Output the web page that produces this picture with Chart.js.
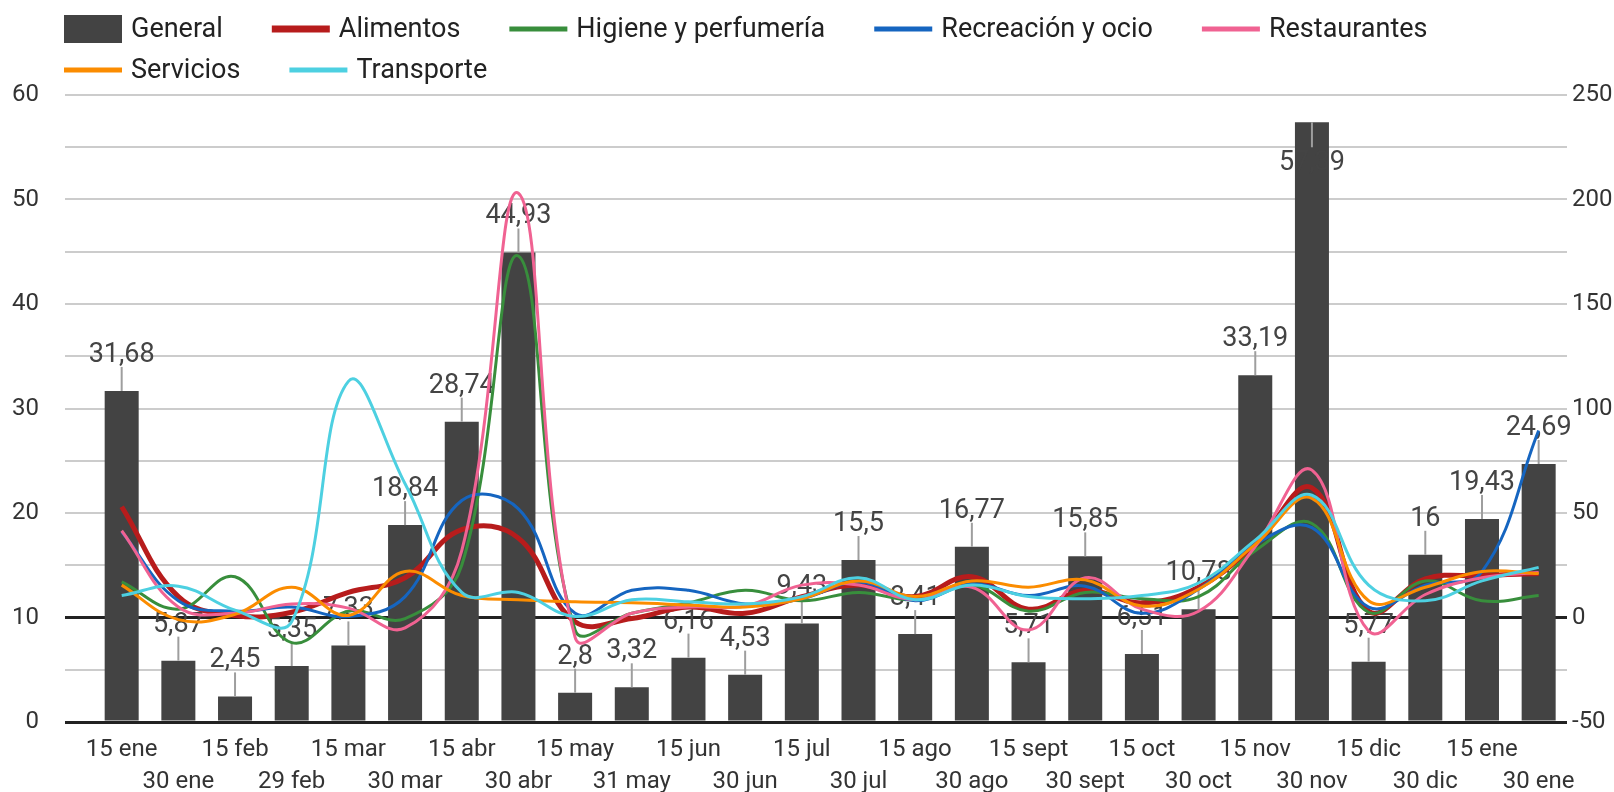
<!DOCTYPE html>
<html>
<head>
<meta charset="utf-8">
<script src="https://cdn.jsdelivr.net/npm/chart.js@4.4.1/dist/chart.umd.min.js"></script>
<style>
  html, body { margin: 0; padding: 0; background: #fff; }
  #wrap { width: 1614px; height: 792px; }
</style>
</head>
<body>
<div id="wrap"><canvas id="chart"></canvas></div>
<script>
// ===== DATA =====
const categories = ['15 ene', '30 ene', '15 feb', '29 feb', '15 mar', '30 mar', '15 abr', '30 abr',
  '15 may', '31 may', '15 jun', '30 jun', '15 jul', '30 jul', '15 ago', '30 ago', '15 sept', '30 sept',
  '15 oct', '30 oct', '15 nov', '30 nov', '15 dic', '30 dic', '15 ene', '30 ene'];

// bars, left axis
const general = [31.68, 5.87, 2.45, 5.35, 7.33, 18.84, 28.74, 44.93, 2.8, 3.32, 6.16, 4.53, 9.43,
  15.5, 8.41, 16.77, 5.71, 15.85, 6.51, 10.78, 33.19, 57.39, 5.77, 16, 19.43, 24.69];

// lines, right axis
const alimentos = [53, 10, 1, 2.5, 12, 19, 42, 38, -2, -0.5, 5, 2, 10, 15.5, 10, 19.5, 4, 13, 7, 14.5, 35, 62, 3, 18.5, 20, 21];
const higiene = [17, 4, 19.5, -12, 3, -0.5, 25, 173, -6, 2, 7, 13, 8, 12, 8.5, 15.5, 3, 12, 9, 10, 32, 45, 2.5, 17.5, 8, 10.5];
const recreacion = [41, 8, 3, 5, 0.5, 10, 56, 52, 2, 13, 13, 6.5, 9, 17, 8, 16, 10.5, 15, 2, 13.5, 35, 43, 5, 15.5, 22, 89.5];
const restaurantes = [41.5, 5, 2, 6.5, 4.5, -5, 32, 203, -9.5, 2, 5, 5.5, 15.5, 15.5, 8.5, 14.5, -6, 19, 4, 3, 34, 70.5, -6.5, 11, 19, 21.5];
const servicios = [15.5, -1, 1.5, 14.5, 1, 22, 10.5, 8.5, 7.5, 7, 6, 5, 9, 17.5, 10, 17.5, 14.5, 18, 5.5, 13.5, 35, 57, 8, 14.5, 22, 21];
const transporte = [10.5, 15, 3.5, -2, 113, 64, 12, 12, 0.5, 8.5, 7.5, 6.5, 10, 19, 8.5, 15.5, 10, 9, 10.5, 16.5, 37, 58.5, 15.5, 8, 17.5, 24];

const leftTicks = [0, 10, 20, 30, 40, 50, 60];
const rightTicks = [-50, 0, 50, 100, 150, 200, 250];

const BAR = '#434343';
const series = [
  { label: 'Alimentos', data: alimentos, color: '#b71c1c', width: 5 },
  { label: 'Higiene y perfumería', data: higiene, color: '#388e3c', width: 3 },
  { label: 'Recreación y ocio', data: recreacion, color: '#1565c0', width: 3 },
  { label: 'Restaurantes', data: restaurantes, color: '#f06292', width: 3 },
  { label: 'Servicios', data: servicios, color: '#fb8c00', width: 3 },
  { label: 'Transporte', data: transporte, color: '#4dd0e1', width: 3 }
];

const toPoints = arr => arr.map((v, i) => ({ x: i, y: v }));

// ===== LEGEND (two rows, left aligned) =====
const topLegend = {
  id: 'topLegend',
  afterDraw(chart) {
    const ctx = chart.ctx;
    const items = [{ text: 'General', color: BAR, box: true }]
      .concat(series.map(s => ({ text: s.label, color: s.color, lw: s.width + 2 })));
    ctx.save();
    ctx.font = '27px Roboto';
    ctx.textBaseline = 'middle';
    let x = 64, y = 29;
    items.forEach(item => {
      const w = ctx.measureText(item.text).width;
      if (x + 67 + w > chart.width - 8) { x = 64; y += 41; }
      if (item.box) {
        ctx.fillStyle = item.color;
        ctx.fillRect(x, y - 14, 58, 28);
      } else {
        ctx.strokeStyle = item.color;
        ctx.lineWidth = item.lw;
        ctx.beginPath();
        ctx.moveTo(x, y);
        ctx.lineTo(x + 58, y);
        ctx.stroke();
      }
      ctx.fillStyle = '#222';
      ctx.fillText(item.text, x + 67, y + 1);
      x += 67 + w + 49;
    });
    ctx.restore();
  }
};

// ===== BAR VALUE LABELS with leader lines =====
const barLabels = {
  id: 'barLabels',
  afterDatasetDraw(chart, args) {
    if (args.index !== 0) return;
    const { ctx, chartArea } = chart;
    ctx.save();
    ctx.font = '27px Roboto';
    ctx.textAlign = 'center';
    args.meta.data.forEach((bar, i) => {
      const text = String(general[i]).replace('.', ',');
      const up = bar.y - 49 > chartArea.top;
      ctx.strokeStyle = '#9e9e9e';
      ctx.lineWidth = 2;
      ctx.beginPath();
      if (up) {
        ctx.moveTo(bar.x, bar.y);
        ctx.lineTo(bar.x, bar.y - 24);
      } else {
        ctx.moveTo(bar.x, bar.y);
        ctx.lineTo(bar.x, bar.y + 25);
      }
      ctx.stroke();
      ctx.fillStyle = '#444';
      ctx.fillText(text, bar.x, up ? bar.y - 29 : bar.y + 48);
    });
    ctx.restore();
  }
};

const datasets = [{
  type: 'bar',
  label: 'General',
  data: toPoints(general),
  backgroundColor: BAR,
  borderWidth: 0,
  barPercentage: 0.6,
  categoryPercentage: 1,
  yAxisID: 'y',
  order: 10
}].concat(series.map((s, k) => ({
  type: 'line',
  label: s.label,
  data: toPoints(s.data),
  borderColor: s.color,
  backgroundColor: s.color,
  borderWidth: s.width,
  pointRadius: 0,
  tension: 0.4,
  fill: false,
  yAxisID: 'y1',
  order: series.length - k
})));

new Chart(document.getElementById('chart'), {
  data: { datasets },
  plugins: [topLegend, barLabels],
  options: {
    responsive: true,
    maintainAspectRatio: false,
    animation: false,
    events: [],
    layout: { padding: { top: 95, left: 0, right: 0, bottom: 0 } },
    plugins: {
      legend: { display: false },
      tooltip: { enabled: false }
    },
    scales: {
      x: {
        type: 'linear',
        offset: false,
        min: -1,
        max: 25.5,
        grid: { display: false },
        border: { display: false },
        afterFit(scale) { scale.height = 70; },
        ticks: {
          stepSize: 1,
          includeBounds: false,
          autoSkip: false,
          maxRotation: 0,
          minRotation: 0,
          padding: 4,
          color: '#333',
          font: { family: 'Roboto', size: 24, lineHeight: 1.33 },
          callback(value) {
            if (!Number.isInteger(value) || value < 0 || value >= categories.length) return '';
            return value % 2 === 0 ? [categories[value], ''] : ['', categories[value]];
          }
        }
      },
      y: {
        position: 'left',
        min: 0,
        max: 60,
        afterFit(scale) { scale.width = 65; },
        grid: {
          drawTicks: false,
          color: c => (c.tick.value === 0 || c.tick.value === 10) ? '#222' : '#cccccc',
          lineWidth: c => (c.tick.value === 0 || c.tick.value === 10) ? 3 : 2
        },
        border: { display: false },
        ticks: {
          stepSize: 5,
          padding: 26,
          color: '#333',
          font: { family: 'Roboto', size: 24 },
          callback: v => leftTicks.includes(v) ? String(v) : ''
        }
      },
      y1: {
        position: 'right',
        min: -50,
        max: 250,
        afterFit(scale) { scale.width = 47; },
        grid: { display: false, drawTicks: false },
        border: { display: false },
        ticks: {
          stepSize: 25,
          padding: 5,
          color: '#333',
          font: { family: 'Roboto', size: 24 },
          callback: v => rightTicks.includes(v) ? String(v) : ''
        }
      }
    }
  }
});
</script>
</body>
</html>
